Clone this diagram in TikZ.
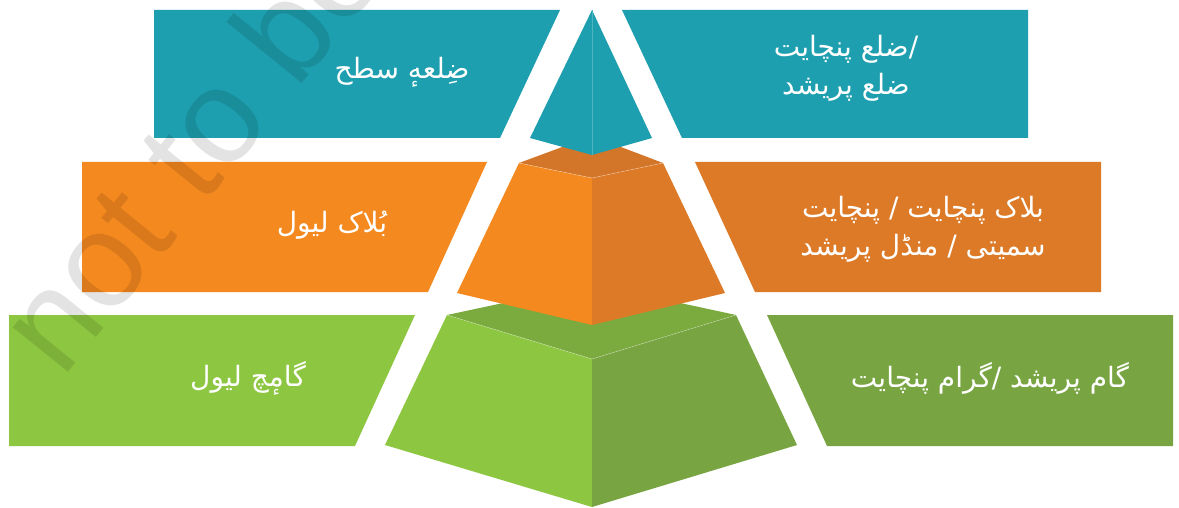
\documentclass[tikz,border=0pt]{standalone}
\usepackage{fontspec}
\TeXXeTstate=1
\newfontfamily\urdu[Script=Arabic]{DejaVu Sans}
\newfontfamily\wmfont{Liberation Sans}
\newcommand{\ur}[1]{{\urdu\beginR #1\endR}}
\definecolor{tealc}{HTML}{1E9FAF}
\definecolor{tealline}{HTML}{4DB5C2}
\definecolor{orangeL}{HTML}{F4891F}
\definecolor{orangeR}{HTML}{DC7A27}
\definecolor{orangeT}{HTML}{D4762A}
\definecolor{greenL}{HTML}{8DC641}
\definecolor{greenR}{HTML}{78A542}
\definecolor{greenT}{HTML}{7BAA3F}
\tikzset{
  lbl/.style={text=white, font=\urdu\fontsize{28}{38}\selectfont, align=center, inner sep=0pt},
  edgeline/.style={line width=0.6pt, white, opacity=0.35}
}
\begin{document}
\begin{tikzpicture}[x=1pt,y=-1pt]
\useasboundingbox (0,0) rectangle (1179,508);
\fill[white] (0,0) rectangle (1179,508);
% ---- green level ----
\fill[greenL] (9,315) -- (415,315) -- (355,446) -- (9,446) -- cycle;
\fill[greenR] (767,315) -- (1173,315) -- (1173,446) -- (827,446) -- cycle;
\fill[greenT] (447,315) -- (592,284) -- (736,315) -- (592,359) -- cycle;
\fill[greenL] (447,315) -- (592,359) -- (592,507) -- (385,445) -- cycle;
\fill[greenR] (592,359) -- (736,315) -- (797,445) -- (592,507) -- cycle;
\draw[edgeline] (447,315) -- (592,359) -- (736,315);
% ---- orange level ----
\fill[orangeL] (82,162) -- (487,162) -- (428,292) -- (82,292) -- cycle;
\fill[orangeR] (695,162) -- (1101,162) -- (1101,292) -- (755,292) -- cycle;
\fill[orangeT] (519,163) -- (592,136) -- (663,163) -- (592,178) -- cycle;
\fill[orangeL] (519,163) -- (592,178) -- (592,325) -- (457,293) -- cycle;
\fill[orangeR] (592,178) -- (663,163) -- (725,293) -- (592,325) -- cycle;
\draw[edgeline] (519,163) -- (592,178) -- (663,163);
% ---- teal level ----
\fill[tealc] (154,10) -- (560,10) -- (500,138) -- (154,138) -- cycle;
\fill[tealc] (622,10) -- (1028,10) -- (1028,138) -- (682,138) -- cycle;
\fill[tealc] (592,10) -- (592,155) -- (530,138) -- cycle;
\fill[tealc] (592,10) -- (652,138) -- (592,155) -- cycle;
\draw[tealline, line width=0.6pt] (592,10) -- (592,155);
% ---- labels ----
\node[lbl] (t1) at (402,72) {\ur{ضِلعهٕ سطح}};
\node[lbl] (t2) at (846,68) {\ur{/ضلع پنچایت}\\\ur{ضلع پریشد}};
\node[lbl] (t3) at (332,225) {\ur{بُلاک لیول}};
\node[lbl] (t4) at (923,229) {\ur{بلاک پنچایت / پنچایت}\\\ur{سمیتی / منڈل پریشد}};
\node[lbl] (t5) at (248,378) {\ur{گامٕچ لیول}};
\node[lbl] (t6) at (990,378) {\ur{گام پریشد /گرام پنچایت}};
% ---- watermark ----
\begin{scope}
\clip (0,0) rectangle (1179,508);
\node[anchor=base west, rotate=51, inner sep=0pt, text=black, text opacity=0.11,
      font=\wmfont\fontsize{134}{134}\selectfont] (wm) at (62,380) {not to be};
\end{scope}
\end{tikzpicture}
\end{document}
